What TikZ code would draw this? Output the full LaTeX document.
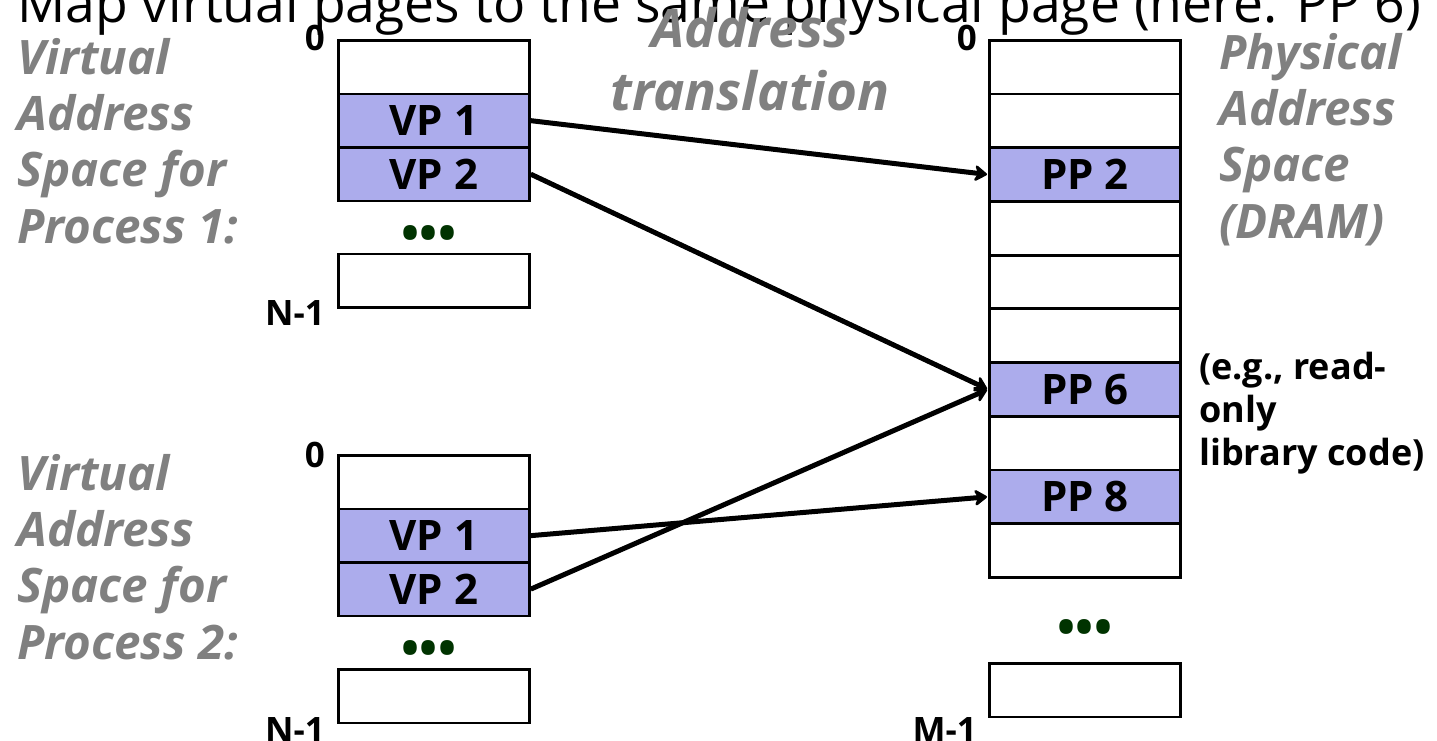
\documentclass[tikz,border=0pt]{standalone}
\usepackage{fontspec}
\setmainfont{Open Sans}
\usetikzlibrary{arrows.meta}
\definecolor{pagefill}{RGB}{172,172,236}
\definecolor{labelgray}{RGB}{128,128,128}
\definecolor{dotgreen}{RGB}{0,51,0}
\tikzset{
  cell/.style={draw=black, line width=2.7pt, fill=white, minimum width=191pt, minimum height=53.6pt, inner sep=0pt, anchor=north west, font=\bfseries\fontsize{42}{42}\selectfont},
  vpage/.style={cell, fill=pagefill},
  biglabel/.style={text=labelgray, anchor=base west, align=left, inner sep=0pt, font=\bfseries\itshape\fontsize{47.5}{56.2}\selectfont},
  idx/.style={anchor=base east, inner sep=0pt, font=\bfseries\fontsize{35}{35}\selectfont},
  dots/.style={text=dotgreen, inner sep=0pt, font=\bfseries\fontsize{48}{48}\selectfont},
  maparrow/.style={line width=5pt, -{Stealth[length=15pt,width=20pt,inset=5pt,round]}, shorten >=1pt}
}
\begin{document}
\begin{tikzpicture}[x=1pt,y=-1pt]
\useasboundingbox (0,0) rectangle (1437,740);
\fill[white] (0,0) rectangle (1437,740);
% title (clipped at top)
\begin{scope}
\clip (0,0) rectangle (1437,740);
\node[anchor=base west, inner sep=0pt, font=\fontsize{53.5}{53.5}\selectfont] (title) at (17,22) {Map virtual pages to the same physical page (here: PP 6)};
\end{scope}
% labels (anchor = baseline of last line)
\node[biglabel] (vas1) at (17,243) {Virtual\\Address\\Space for\\Process 1:};
\node[biglabel] (vas2) at (17,659) {Virtual\\Address\\Space for\\Process 2:};
\node[biglabel] (pas) at (1219,238) {Physical\\Address\\Space\\(DRAM)};
\node[text=labelgray, anchor=base, align=center, inner sep=0pt, font=\bfseries\itshape\fontsize{53}{63}\selectfont] (at) at (750,110) {Address\\translation};
% process 1
\node[cell] (a0) at (337,39) {};
\node[vpage] (a1) at (337,92.5) {VP 1};
\node[vpage] (a2) at (337,146) {VP 2};
\node[cell] (an) at (337,252.5) {};
\node[dots] (ad) at (429,238) {•••};
\node[idx] (a0l) at (325,50) {0};
\node[idx] (anl) at (325,325) {N-1};
% process 2
\node[cell] (b0) at (337,454) {};
\node[vpage] (b1) at (337,507.5) {VP 1};
\node[vpage] (b2) at (337,561) {VP 2};
\node[cell] (bn) at (337,668) {};
\node[dots] (bd) at (429,653) {•••};
\node[idx] (b0l) at (325,467) {0};
\node[idx] (bnl) at (325,742) {N-1};
% physical
\node[cell] (p0) at (988,39) {};
\node[cell] (p1) at (988,92.7) {};
\node[vpage] (p2) at (988,146.4) {PP 2};
\node[cell] (p3) at (988,200.1) {};
\node[cell] (p4) at (988,253.8) {};
\node[cell] (p5) at (988,307.5) {};
\node[vpage] (p6) at (988,361.2) {PP 6};
\node[cell] (p7) at (988,414.9) {};
\node[vpage] (p8) at (988,468.6) {PP 8};
\node[cell] (p9) at (988,522.3) {};
\node[cell] (pm) at (988,662) {};
\node[dots] (pd) at (1085,632) {•••};
\node[idx] (p0l) at (977,50) {0};
\node[idx] (pml) at (977,742) {M-1};
\node[anchor=base west, align=left, inner sep=0pt, font=\bfseries\fontsize{36}{43}\selectfont] (note) at (1199,465) {(e.g., read-\\only\\library code)};
% arrows
\draw[maparrow] (a1.east) -- (p2.west);
\draw[maparrow] (a2.east) -- (p6.west);
\draw[maparrow] (b1.east) -- (p8.west);
\draw[maparrow] (b2.east) -- (p6.west);
\end{tikzpicture}
\end{document}
